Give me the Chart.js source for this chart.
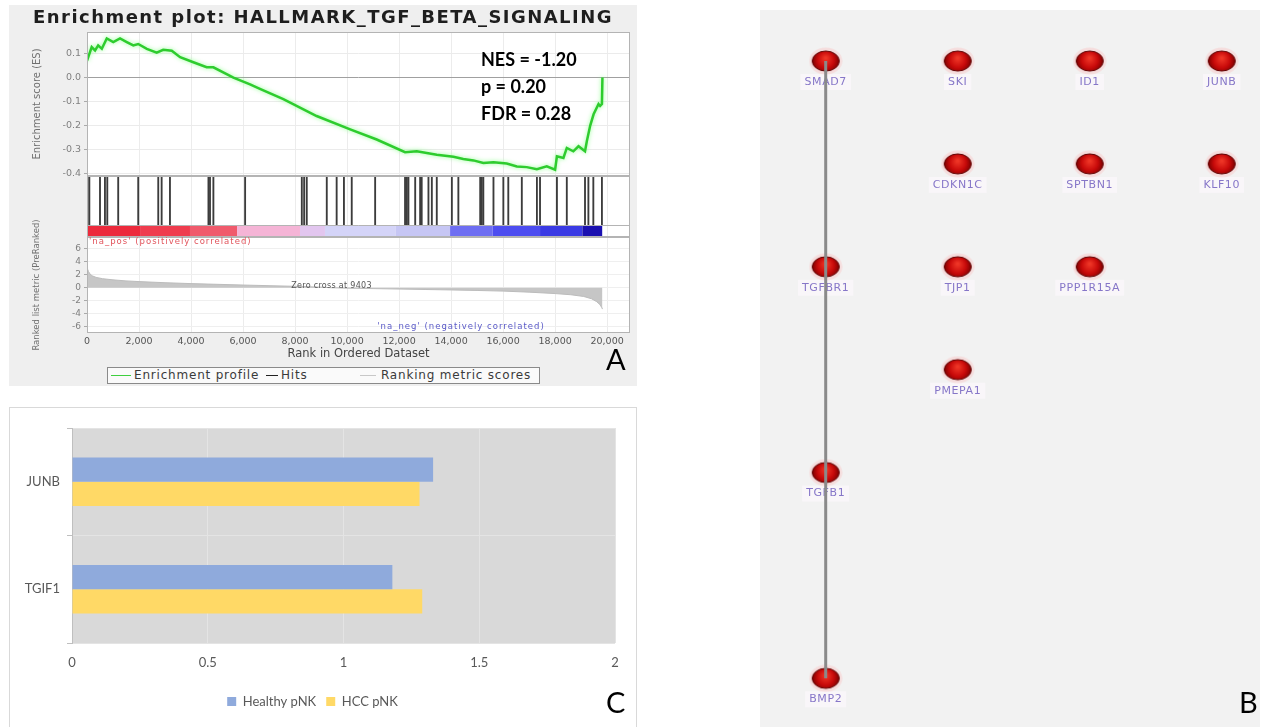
<!DOCTYPE html>
<html>
<head>
<meta charset="utf-8">
<title>TGF-beta signalling in pNK cells</title>
<script src="https://cdn.jsdelivr.net/npm/chart.js@4.4.1/dist/chart.umd.min.js"></script>
<style>
  html, body { margin: 0; padding: 0; width: 1263px; height: 727px; overflow: hidden; background: #fff; }
  .abs { position: absolute; }
  #panelA { left: 9px; top: 5px; width: 628px; height: 381px; background: #efefef; }
  #panelB { left: 760px; top: 10px; width: 500px; height: 717px; background: #f2f2f2; }
  #panelC { left: 9px; top: 407px; width: 628px; height: 330px; border: 1.5px solid #d9d9d9; box-sizing: border-box; background: #fff; }
  #gseaBox { left: 9px; top: 5px; width: 628px; height: 357px; }
  #netBox { left: 760px; top: 10px; width: 500px; height: 717px; }
  #barBox { left: 10px; top: 409px; width: 626px; height: 318px; }
  #gseaTitle { left: 9px; top: 7px; width: 628px; text-align: center; font: bold 18px "DejaVu Sans", sans-serif; line-height: 20px; letter-spacing: 1.45px; color: #1e1e1e; white-space: nowrap; }
  #stats { left: 481px; top: 46px; font: bold 18px Lato, sans-serif; line-height: 27px; color: #000; white-space: nowrap; }
  .letter { font: 29px Lato, sans-serif; line-height: 29px; color: #000; }
  #gseaLegend { left: 107px; top: 367px; width: 433px; height: 17px; border: 1px solid #8a8a8a; box-sizing: border-box; background: #fafafa; }
  #gseaLegend .sw { position: absolute; top: 7px; height: 0; }
  #gseaLegend .tx { position: absolute; top: 0; font: 12px "DejaVu Sans", sans-serif; line-height: 15px; letter-spacing: 0.8px; color: #3a3a3a; white-space: nowrap; }
</style>
</head>
<body>
<div id="panelA" class="abs"></div>
<div id="panelB" class="abs"></div>
<div id="panelC" class="abs"></div>

<div id="gseaBox" class="abs"><canvas id="gsea"></canvas></div>
<div id="gseaTitle" class="abs">Enrichment plot: HALLMARK_TGF_BETA_SIGNALING</div>
<div id="stats" class="abs">NES = -1.20<br>p = 0.20<br>FDR = 0.28</div>
<div id="gseaLegend" class="abs">
  <span class="sw" style="left:3px;width:20px;border-top:1.5px solid #3fcf3f;"></span>
  <span class="tx" style="left:26px;">Enrichment profile</span>
  <span class="sw" style="left:158px;width:12px;border-top:1.5px solid #222;"></span>
  <span class="tx" style="left:173px;">Hits</span>
  <span class="sw" style="left:252px;width:16px;border-top:1.5px solid #c8c8c8;"></span>
  <span class="tx" style="left:273px;">Ranking metric scores</span>
</div>

<div id="netBox" class="abs"><canvas id="network"></canvas></div>
<div id="barBox" class="abs"><canvas id="bars"></canvas></div>

<div class="abs letter" style="left:606px;top:344px;">A</div>
<div class="abs letter" style="left:1239px;top:687px;">B</div>
<div class="abs letter" style="left:606px;top:687px;">C</div>

<script>
// ---------- Panel A: GSEA enrichment plot ----------
const ES_RANK  = [0, 180, 310, 430, 570, 760, 1010, 1270, 1530, 1780,
                  1970, 2300, 2680, 2930, 3260, 3580, 4090, 4600, 4860, 5630,
                  6270, 6650, 7550, 8830, 10120, 11140, 12230, 12680, 13450, 14090,
                  14470, 14860, 15240, 15630, 16140, 16530, 16910, 17300, 17680, 18000,
                  18070, 18320, 18450, 18700, 18900, 19150, 19220, 19350, 19480, 19670,
                  19730, 19800, 19820];
const ES_SCORE = [0.07, 0.127, 0.113, 0.134, 0.12, 0.163, 0.148, 0.163, 0.148, 0.134,
                  0.14, 0.12, 0.104, 0.116, 0.112, 0.085, 0.064, 0.043, 0.043, 0.0,
                  -0.028, -0.047, -0.09, -0.16, -0.216, -0.258, -0.311, -0.307, -0.321, -0.33,
                  -0.339, -0.345, -0.356, -0.353, -0.358, -0.37, -0.373, -0.382, -0.37, -0.384,
                  -0.328, -0.335, -0.293, -0.307, -0.286, -0.307, -0.265, -0.2, -0.153, -0.11,
                  -0.118, -0.11, 0.0];

const HIT_RANKS = [20, 90, 500, 690, 780, 1200, 1970, 2740, 2870, 3190,
                   4670, 4730, 4860, 6080, 8260, 8350, 8450, 9220, 9600, 9880,
                   10180, 11080, 12230, 12300, 12360, 12620, 12810, 12870, 13130, 13260,
                   13450, 14030, 14280, 15120, 15180, 15240, 15630, 16010, 16200, 16720,
                   17300, 17420, 18070, 18450, 19150, 19280, 19470, 19800];

const METRIC_RANK  = [0, 20, 60, 120, 200, 350, 600, 1000, 1500, 2000,
                      3000, 4000, 5000, 6000, 7000, 8000, 9000, 9403, 10000, 11000,
                      12000, 13000, 14000, 15000, 16000, 17000, 18000, 18600, 19100, 19400,
                      19600, 19720, 19800, 19820];
const METRIC_VALUE = [3.3, 2.9, 2.5, 2.1, 1.85, 1.6, 1.4, 1.22, 1.06, 0.95,
                      0.78, 0.64, 0.53, 0.42, 0.32, 0.22, 0.09, 0, -0.06, -0.13,
                      -0.2, -0.27, -0.34, -0.42, -0.52, -0.68, -0.9, -1.08, -1.35, -1.7,
                      -2.15, -2.6, -3.1, -3.3];
const ZERO_CROSS = 9403;

// heat strip under the hits: rank breakpoints and the colour of each band
const STRIP_EDGES  = [0, 2040, 3960, 5770, 8190, 9150, 11850, 13960, 15580, 17420, 19040, 19820];
const STRIP_COLORS = ['#ec2a3c', '#ef3c4e', '#f05a6c', '#f5b4d6', '#e2c6ef', '#d4d4f8',
                      '#c6c6f4', '#6e6ef2', '#4d4df0', '#3a3ae4', '#1a10b0'];

const X_TICKS      = [0, 2000, 4000, 6000, 8000, 10000, 12000, 14000, 16000, 18000, 20000];
const ES_TICKS     = [-0.4, -0.3, -0.2, -0.1, 0.0, 0.1];
const METRIC_TICKS = [-6, -4, -2, 0, 2, 4, 6];

// ---------- Panel B: gene network ----------
const GENES    = ['SMAD7', 'SKI', 'ID1', 'JUNB', 'CDKN1C', 'SPTBN1', 'KLF10',
                  'TGFBR1', 'TJP1', 'PPP1R15A', 'PMEPA1', 'TGFB1', 'BMP2'];
const GENE_COL = [0, 1, 2, 3, 1, 2, 3, 0, 1, 2, 1, 0, 0];
const GENE_ROW = [0, 0, 0, 0, 1, 1, 1, 2, 2, 2, 3, 4, 6];
const EDGE_PATH = ['SMAD7', 'TGFBR1', 'TGFB1', 'BMP2'];

// ---------- Panel C: expression bars ----------
const BAR_GENES   = ['JUNB', 'TGIF1'];
const HEALTHY_PNK = [1.33, 1.18];
const HCC_PNK     = [1.28, 1.29];
const BAR_TICK_STEP = 0.5;

Chart.defaults.animation = false;
Chart.defaults.font.family = '"DejaVu Sans", sans-serif';
Chart.defaults.plugins.tooltip.enabled = false;
Chart.defaults.plugins.legend.display = false;

const toXY = (xs, ys) => xs.map((x, i) => ({ x, y: ys[i] }));
const fixedTicks = values => scale => { scale.ticks = values.map(v => ({ value: v })); };

const STRIP_TOP = 0.197;               // fraction of the hits track taken by the heat strip
const HIT_SPAN  = [0.2, 0.985];        // vertical extent of a hit line inside the hits track
const Y_AXIS_WIDTH = 78;

const stripSets = STRIP_COLORS.map((color, i) => ({
  type: 'line',
  yAxisID: 'yHits',
  data: [{ x: STRIP_EDGES[i], y: STRIP_TOP }, { x: STRIP_EDGES[i + 1], y: STRIP_TOP }],
  borderWidth: 0,
  pointRadius: 0,
  backgroundColor: color,
  fill: { value: 0 },
  order: 2
}));

// white plotting area, panel frames and the small notes inside the ranked-list track
const gseaFrames = {
  id: 'gseaFrames',
  beforeDraw(chart) {
    const { ctx, chartArea: a } = chart;
    ctx.save();
    ctx.fillStyle = '#ffffff';
    ctx.fillRect(a.left, a.top, a.width, a.height);
    ctx.restore();
  },
  afterDatasetsDraw(chart) {
    const { ctx, chartArea: a, scales } = chart;
    ctx.save();
    ctx.strokeStyle = '#b4b4b4';
    ctx.lineWidth = 1;
    ['yES', 'yHits', 'yRank'].forEach(id => {
      const s = scales[id];
      ctx.strokeRect(Math.round(a.left) + 0.5, Math.round(s.top) + 0.5,
                     Math.round(a.width) - 1, Math.round(s.bottom - s.top) - 1);
    });
    const ys = Math.round(scales.yHits.getPixelForValue(STRIP_TOP)) + 0.5;
    ctx.beginPath();
    ctx.moveTo(a.left, ys);
    ctx.lineTo(a.right, ys);
    ctx.stroke();

    const x = scales.x, yr = scales.yRank;
    if ('letterSpacing' in ctx) ctx.letterSpacing = '1px';
    ctx.textBaseline = 'middle';
    ctx.font = '8.5px "DejaVu Sans", sans-serif';
    ctx.fillStyle = '#e2545c';
    ctx.textAlign = 'left';
    ctx.fillText("'na_pos' (positively correlated)", a.left + 2, yr.top + 5);
    ctx.fillStyle = '#5a5ac8';
    ctx.textAlign = 'right';
    ctx.fillText("'na_neg' (negatively correlated)", x.getPixelForValue(17600), yr.getPixelForValue(-6));
    if ('letterSpacing' in ctx) ctx.letterSpacing = '0.3px';
    ctx.fillStyle = '#555555';
    ctx.textAlign = 'center';
    ctx.font = '8px "DejaVu Sans", sans-serif';
    ctx.fillText('Zero cross at ' + ZERO_CROSS, x.getPixelForValue(ZERO_CROSS), yr.getPixelForValue(0.35));
    ctx.restore();
  }
};

// soft green halo round the running enrichment score
const esGlow = {
  id: 'esGlow',
  beforeDatasetDraw(chart, args) {
    if (args.index !== 0) return;
    chart.ctx.save();
    chart.ctx.shadowColor = 'rgba(130,255,130,0.85)';
    chart.ctx.shadowBlur = 4;
  },
  afterDatasetDraw(chart, args) {
    if (args.index !== 0) return;
    chart.ctx.restore();
  }
};

new Chart(document.getElementById('gsea'), {
  type: 'line',
  data: {
    datasets: [
      {
        label: 'Enrichment profile',
        yAxisID: 'yES',
        data: toXY(ES_RANK, ES_SCORE),
        borderColor: '#2ecc2e',
        borderWidth: 2.5,
        pointRadius: 0,
        tension: 0,
        fill: false,
        order: 0
      },
      {
        type: 'bar',
        label: 'Hits',
        yAxisID: 'yHits',
        data: HIT_RANKS.map(r => ({ x: r, y: HIT_SPAN })),
        backgroundColor: '#3c3c3c',
        barThickness: 1.2,
        order: 1
      },
      ...stripSets,
      {
        label: 'Ranking metric scores',
        yAxisID: 'yRank',
        data: toXY(METRIC_RANK, METRIC_VALUE),
        borderColor: '#bcbcbc',
        backgroundColor: '#c6c6c6',
        borderWidth: 1,
        pointRadius: 0,
        tension: 0,
        fill: { value: 0 },
        order: 3
      }
    ]
  },
  options: {
    responsive: true,
    maintainAspectRatio: false,
    events: [],
    layout: { padding: { top: 27, right: 7, left: 0, bottom: 0 } },
    scales: {
      x: {
        type: 'linear',
        offset: false,
        min: 0,
        max: 20880,
        afterBuildTicks: fixedTicks(X_TICKS),
        afterFit: s => { s.height = 29; },
        ticks: {
          callback: v => v.toLocaleString('en-US'),
          font: { size: 9.5 },
          color: '#555555',
          padding: 3,
          maxRotation: 0,
          autoSkip: false
        },
        grid: { color: '#ececec', drawTicks: false, offset: false },
        border: { display: false },
        title: {
          display: true,
          text: 'Rank in Ordered Dataset',
          font: { size: 11.5 },
          color: '#444444',
          padding: { top: 0, bottom: 1 }
        }
      },
      yRank: {
        type: 'linear',
        position: 'left',
        stack: 'gsea',
        stackWeight: 96,
        min: -7,
        max: 7.85,
        afterBuildTicks: fixedTicks(METRIC_TICKS),
        afterFit: s => { s.width = Y_AXIS_WIDTH; },
        ticks: { font: { size: 9 }, color: '#808080', padding: 3, autoSkip: false },
        grid: { color: '#efefef', tickLength: 3, tickColor: '#aaaaaa' },
        border: { display: false },
        title: {
          display: true,
          text: 'Ranked list metric (PreRanked)',
          font: { size: 8.5 },
          color: '#707070',
          padding: { top: 23, bottom: 0 }
        }
      },
      yHits: {
        type: 'linear',
        position: 'left',
        stack: 'gsea',
        stackWeight: 61,
        min: 0,
        max: 1,
        afterFit: s => { s.width = Y_AXIS_WIDTH; },
        ticks: { display: false },
        grid: { display: false },
        border: { display: false }
      },
      yES: {
        type: 'linear',
        position: 'left',
        stack: 'gsea',
        stackWeight: 144,
        min: -0.41,
        max: 0.19,
        afterBuildTicks: fixedTicks(ES_TICKS),
        afterFit: s => { s.width = Y_AXIS_WIDTH; },
        ticks: { callback: v => v.toFixed(1), font: { size: 9.5 }, color: '#808080', padding: 3, autoSkip: false },
        grid: {
          color: c => (c.tick && Math.abs(c.tick.value) < 1e-9) ? '#a0a0a0' : '#ebebeb',
          tickLength: 3,
          tickColor: '#aaaaaa'
        },
        border: { display: false },
        title: {
          display: true,
          text: 'Enrichment score (ES)',
          font: { size: 10 },
          color: '#707070',
          padding: { top: 22, bottom: 0 }
        }
      }
    }
  },
  plugins: [gseaFrames, esGlow]
});

// ---------- Panel B ----------
function makeNodeSprite() {
  const c = document.createElement('canvas');
  c.width = 34; c.height = 28;
  const g = c.getContext('2d');
  g.fillStyle = 'rgba(255,170,170,0.28)';
  g.beginPath(); g.ellipse(17, 14, 16.5, 13.5, 0, 0, Math.PI * 2); g.fill();
  const grad = g.createRadialGradient(17, 11, 1, 17, 14, 14);
  grad.addColorStop(0, '#ee3526');
  grad.addColorStop(0.55, '#c80a0a');
  grad.addColorStop(1, '#760000');
  g.fillStyle = grad;
  g.beginPath(); g.ellipse(17, 14, 13.5, 10, 0, 0, Math.PI * 2); g.fill();
  g.strokeStyle = '#5e0000';
  g.lineWidth = 1;
  g.stroke();
  return c;
}
const nodeSprite = makeNodeSprite();
const nodeAt = name => { const i = GENES.indexOf(name); return { x: GENE_COL[i], y: GENE_ROW[i] }; };

const geneLabels = {
  id: 'geneLabels',
  beforeDatasetsDraw(chart) {
    const { ctx } = chart;
    const xs = chart.scales.x, ys = chart.scales.y;
    ctx.save();
    ctx.font = '11px "DejaVu Sans", sans-serif';
    if ('letterSpacing' in ctx) ctx.letterSpacing = '0.6px';
    ctx.textAlign = 'center';
    ctx.textBaseline = 'middle';
    GENES.forEach((g, i) => {
      const px = xs.getPixelForValue(GENE_COL[i]);
      const py = ys.getPixelForValue(GENE_ROW[i]) + 21;
      const w = ctx.measureText(g).width;
      ctx.fillStyle = 'rgba(255,250,255,0.55)';
      ctx.fillRect(px - w / 2 - 4, py - 8, w + 8, 16);
      ctx.fillStyle = '#8676c8';
      ctx.fillText(g, px, py);
    });
    ctx.restore();
  }
};

new Chart(document.getElementById('network'), {
  type: 'scatter',
  data: {
    datasets: [
      {
        type: 'line',
        data: EDGE_PATH.map(nodeAt),
        borderColor: '#8a8a8a',
        borderWidth: 3,
        pointRadius: 0,
        order: 0
      },
      {
        data: GENES.map(nodeAt),
        pointStyle: nodeSprite,
        pointRadius: 13,
        order: 1
      }
    ]
  },
  options: {
    responsive: true,
    maintainAspectRatio: false,
    events: [],
    layout: { padding: 0, autoPadding: false },
    scales: {
      x: { display: false, min: -0.4977, max: 3.29 },
      y: { display: false, min: -0.4957, max: 6.473, reverse: true }
    }
  },
  plugins: [geneLabels]
});

// ---------- Panel C ----------
const plotBackground = {
  id: 'plotBackground',
  beforeDraw(chart) {
    const { ctx, chartArea: a } = chart;
    ctx.save();
    ctx.fillStyle = '#d9d9d9';
    ctx.fillRect(a.left, a.top, a.width, a.height);
    ctx.restore();
  }
};

new Chart(document.getElementById('bars'), {
  type: 'bar',
  data: {
    labels: BAR_GENES,
    datasets: [
      { label: 'Healthy pNK', data: HEALTHY_PNK, backgroundColor: '#8faadc' },
      { label: 'HCC pNK', data: HCC_PNK, backgroundColor: '#ffd966' }
    ]
  },
  options: {
    indexAxis: 'y',
    responsive: true,
    maintainAspectRatio: false,
    events: [],
    layout: { padding: { top: 19, right: 21, left: 0, bottom: 9 } },
    datasets: { bar: { categoryPercentage: 0.45, barPercentage: 1 } },
    plugins: {
      legend: {
        display: true,
        position: 'bottom',
        labels: {
          boxWidth: 9,
          boxHeight: 9,
          padding: 10,
          color: '#595959',
          font: { size: 13, family: 'Lato, sans-serif' }
        }
      }
    },
    scales: {
      x: {
        min: 0,
        max: 2,
        afterFit: s => { s.height = 42; },
        ticks: {
          stepSize: BAR_TICK_STEP,
          callback: v => String(Number(v.toFixed(1))),
          padding: 12,
          color: '#595959',
          font: { size: 13, family: 'Lato, sans-serif' }
        },
        grid: { color: '#e4e4e4', drawTicks: false },
        border: { display: false }
      },
      y: {
        afterFit: s => { s.width = 62; },
        ticks: { padding: 7, color: '#595959', font: { size: 13, family: 'Lato, sans-serif' } },
        grid: { color: '#e4e4e4', tickLength: 5, tickColor: '#bfbfbf', offset: true },
        border: { color: '#bfbfbf' }
      }
    }
  },
  plugins: [plotBackground]
});
</script>
</body>
</html>
